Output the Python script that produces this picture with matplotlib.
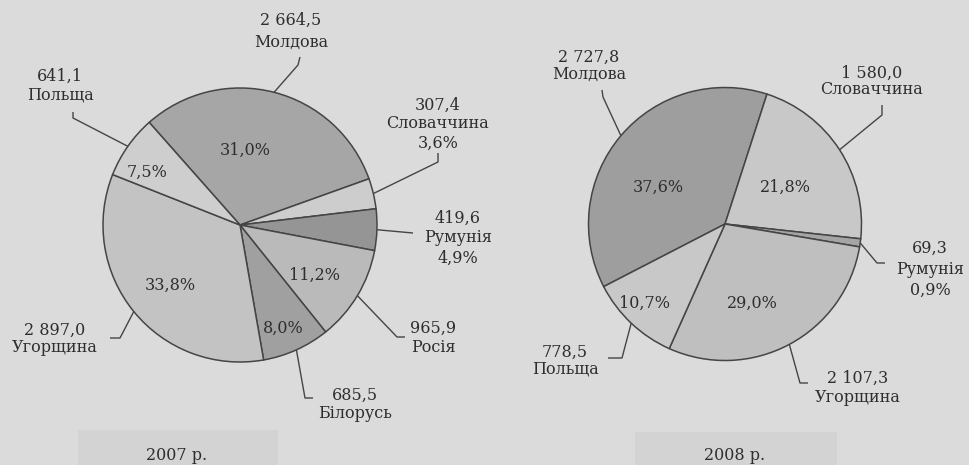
import numpy as np
import matplotlib
matplotlib.use("Agg")
import matplotlib.pyplot as plt
from matplotlib.patches import Rectangle

# ---------------- data ----------------
countries_2007 = ["Молдова", "Словаччина", "Румунія", "Росія", "Білорусь", "Угорщина", "Польща"]
values_2007 = [2664.5, 307.4, 419.6, 965.9, 685.5, 2897.0, 641.1]
shares_2007 = [31.0, 3.6, 4.9, 11.2, 8.0, 33.8, 7.5]

countries_2008 = ["Молдова", "Словаччина", "Румунія", "Угорщина", "Польща"]
values_2008 = [2727.8, 1580.0, 69.3, 2107.3, 778.5]
shares_2008 = [37.6, 21.8, 0.9, 29.0, 10.7]

years = ["2007 р.", "2008 р."]

# ---------------- style / layout ----------------
W, H = 969, 465
BG = "#dbdbdb"
EDGE = "#454545"
TXT = "#2e2e2e"
FS = 11.5
FONT = ["DejaVu Serif"]

colors_2007 = ["#a6a6a6", "#cdcdcd", "#959595", "#bababa", "#a0a0a0", "#c3c3c3", "#cecece"]
colors_2008 = ["#9e9e9e", "#c8c8c8", "#a5a5a5", "#bfbfbf", "#c8c8c8"]


def Y(y):
    return H - y


def fmt_val(v):
    return f"{v:,.1f}".replace(",", " ").replace(".", ",")


def fmt_pct(p):
    return f"{p:.1f}".replace(".", ",") + "%"


fig = plt.figure(figsize=(W / 100, H / 100), dpi=100)
fig.patch.set_facecolor(BG)
ax = fig.add_axes([0, 0, 1, 1])
ax.set_facecolor(BG)

# subtle boxes behind the year captions (scan artefact)
ax.add_patch(Rectangle((78, Y(465)), 200, 35, facecolor="#d3d3d3", edgecolor="none", zorder=0))
ax.add_patch(Rectangle((635, Y(465)), 202, 33, facecolor="#d3d3d3", edgecolor="none", zorder=0))

charts = [
    dict(values=values_2007, names=countries_2007, shares=shares_2007, colors=colors_2007,
         center=(240, 225), r=137, start=131.5,
         outer_pct={1, 2},
         labels=[((291, 20), 22), ((438, 105), 19), ((458, 218), 20), ((433, 328), 19),
                 ((355, 395), 18), ((55, 330), 18), ((60, 76), 19)],
         leaders=[[(298, 65), (300, 57)], [(438, 162), (438, 153)], [(413, 233)],
                  [(397, 337), (405, 337)], [(305, 398), (313, 398)],
                  [(120, 338), (110, 338)], [(73, 118), (73, 112)]],
         inner=[(245, 150), None, None, (315, 275), (283, 328), (170, 285), (147, 172)],
         title=(177, 455)),
    dict(values=values_2008, names=countries_2008, shares=shares_2008, colors=colors_2008,
         center=(725, 224), r=136.5, start=207.3,
         outer_pct={2},
         labels=[((589, 57), 17), ((872, 73), 17), ((930, 248), 21), ((858, 378), 19),
                 ((565, 352), 17)],
         leaders=[[(603, 97), (602, 90)], [(882, 115), (882, 105)], [(877, 263), (885, 263)],
                  [(800, 383), (808, 383)], [(622, 358), (608, 358)]],
         inner=[(658, 187), (785, 187), None, (752, 303), (645, 303)],
         title=(735, 455)),
]

for ci, c in enumerate(charts):
    cx, cy = c["center"]
    wedges, _ = ax.pie(c["values"], colors=c["colors"], startangle=c["start"],
                       counterclock=False, center=(cx, Y(cy)), radius=c["r"],
                       wedgeprops=dict(edgecolor=EDGE, linewidth=1.1), frame=True)
    for i, w in enumerate(wedges):
        mid = np.deg2rad((w.theta1 + w.theta2) / 2)
        sx = w.center[0] + w.r * np.cos(mid)
        sy = w.center[1] + w.r * np.sin(mid)
        xs = [sx] + [p[0] for p in c["leaders"][i]]
        ys = [sy] + [Y(p[1]) for p in c["leaders"][i]]
        ax.plot(xs, ys, color=EDGE, lw=1.0, solid_capstyle="butt", zorder=3)
        lines = [fmt_val(c["values"][i]), c["names"][i]]
        if i in c["outer_pct"]:
            lines.append(fmt_pct(c["shares"][i]))
        (lx, ly), sp = c["labels"][i]
        for k, t in enumerate(lines):
            ax.text(lx, Y(ly + k * sp), t, ha="center", va="center", fontsize=FS,
                    family=FONT, color=TXT, zorder=4)
        if c["inner"][i] is not None:
            px, py = c["inner"][i]
            ax.text(px, Y(py), fmt_pct(c["shares"][i]), ha="center", va="center",
                    fontsize=FS, family=FONT, color=TXT, zorder=4)
    tx, ty = c["title"]
    ax.text(tx, Y(ty), years[ci], ha="center", va="center", fontsize=FS,
            family=FONT, color=TXT, zorder=4)

ax.set_xlim(0, W)
ax.set_ylim(0, H)
ax.set_aspect("auto")
ax.axis("off")

fig.savefig("out.png", dpi=100, facecolor=BG)
